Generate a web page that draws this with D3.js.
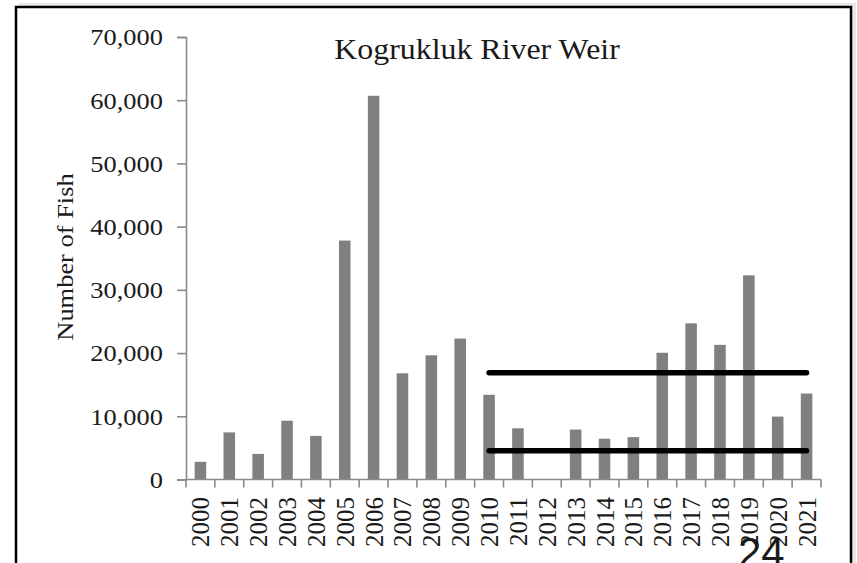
<!DOCTYPE html>
<html>
<head>
<meta charset="utf-8">
<script src="https://cdn.jsdelivr.net/npm/d3@7"></script>
<style>
  body { margin: 0; background: #fff; }
  text { font-family: "Liberation Serif", "Times New Roman", serif; fill: #1a1a1a; }
</style>
</head>
<body>
<div id="chart"></div>
<script>
// data
var years = ['2000', '2001', '2002', '2003', '2004', '2005', '2006', '2007', '2008', '2009', '2010',
             '2011', '2012', '2013', '2014', '2015', '2016', '2017', '2018', '2019', '2020', '2021'];
var fish = [2800, 7450, 4050, 9300, 6900, 37800, 60700, 16800, 19650, 22300, 13400,
            8100, 0, 7900, 6450, 6700, 20050, 24700, 21300, 32300, 9950, 13600];
var goalRange = [4550, 16900];
var goalYears = ['2010', '2021'];
var yTicks = [0, 10000, 20000, 30000, 40000, 50000, 60000, 70000];

var width = 857, height = 563;

var svg = d3.select('#chart').append('svg')
    .attr('width', width)
    .attr('height', height);

// frame with a soft shadow
svg.append('rect')
    .attr('x', 19).attr('y', 3).attr('width', 837).attr('height', 580)
    .attr('fill', '#d8d8d8').attr('opacity', 0.6);
svg.append('rect')
    .attr('x', 16).attr('y', 7).attr('width', 835).attr('height', 580)
    .attr('fill', '#fff').attr('stroke', '#000').attr('stroke-width', 2.5);

var x = d3.scaleBand().domain(years).range([186, 821]).paddingInner(0.6).paddingOuter(0.3);
var y = d3.scaleLinear().domain([0, 70000]).range([479.5, 37]);

// bars
svg.selectAll('.bar')
    .data(fish)
    .enter()
    .append('rect')
    .attr('class', 'bar')
    .attr('x', function(d, i) { return x(years[i]); })
    .attr('y', function(d) { return y(d); })
    .attr('width', x.bandwidth())
    .attr('height', function(d) { return y(0) - y(d); })
    .attr('fill', '#808080');

// y axis
var yAxis = svg.append('g')
    .attr('transform', 'translate(186,0)')
    .call(d3.axisLeft(y).tickValues(yTicks).tickSize(9).tickFormat(d3.format(',')));
yAxis.select('.domain').attr('stroke', '#8a8a8a').attr('stroke-width', 1.6);
yAxis.selectAll('.tick line').attr('stroke', '#8a8a8a').attr('stroke-width', 1.6);
yAxis.selectAll('.tick text')
    .attr('x', null).attr('dy', '0.34em')
    .attr('transform', 'translate(-23,0) scale(1.15,1)')
    .style('font-size', '23px')
    .style('font-family', '"Liberation Serif", serif')
    .attr('fill', '#1a1a1a');

// x axis: baseline plus ticks at band boundaries
var step = x.step();
var x0 = x.range()[0];
svg.append('line')
    .attr('x1', x0).attr('x2', x.range()[1])
    .attr('y1', y(0)).attr('y2', y(0))
    .attr('stroke', '#8a8a8a').attr('stroke-width', 1.6);
svg.selectAll('.xtick')
    .data(d3.range(years.length + 1))
    .enter()
    .append('line')
    .attr('x1', function(i) { return x0 + i * step; })
    .attr('x2', function(i) { return x0 + i * step; })
    .attr('y1', y(0)).attr('y2', y(0) + 8)
    .attr('stroke', '#8a8a8a').attr('stroke-width', 1.6);

svg.selectAll('.xlabel')
    .data(years)
    .enter()
    .append('text')
    .attr('text-anchor', 'end')
    .attr('transform', function(d) {
        return 'translate(' + (x(d) + x.bandwidth() / 2 + 9) + ',497) rotate(-90) scale(1.02,1)';
    })
    .style('font-size', '24.5px')
    .text(function(d) { return d; });

// goal lines
goalRange.forEach(function(v) {
    svg.append('line')
        .attr('x1', x(goalYears[0]) + x.bandwidth() / 2)
        .attr('x2', x(goalYears[1]) + x.bandwidth() / 2)
        .attr('y1', y(v)).attr('y2', y(v))
        .attr('stroke', '#000').attr('stroke-width', 5.5)
        .attr('stroke-linecap', 'round');
});

// titles
svg.append('text')
    .attr('text-anchor', 'middle')
    .attr('transform', 'translate(477,59) scale(1.1,1)')
    .style('font-size', '29px')
    .text('Kogrukluk River Weir');

svg.append('text')
    .attr('text-anchor', 'middle')
    .attr('transform', 'translate(73,257) rotate(-90) scale(1.15,1)')
    .style('font-size', '23px')
    .text('Number of Fish');

// page number, runs off the bottom edge like in the scan
svg.append('text')
    .attr('x', 738).attr('y', 567)
    .style('font-family', '"Liberation Sans", Arial, sans-serif')
    .style('font-size', '42px')
    .attr('fill', '#000')
    .text('24');
</script>
</body>
</html>
